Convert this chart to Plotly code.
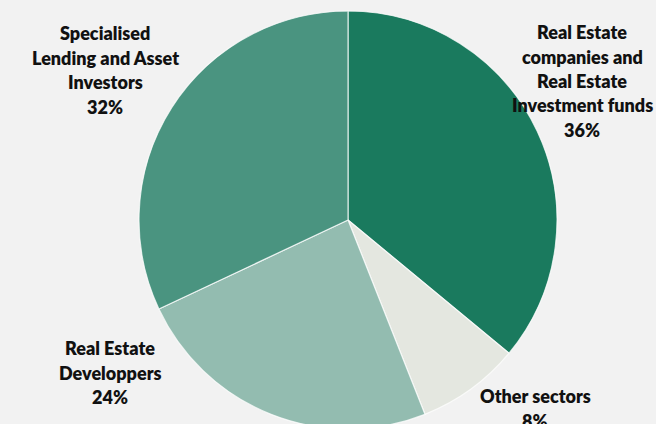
import plotly.graph_objects as go

# Sector breakdown
sectors = [
    "Real Estate companies and Real Estate Investment funds",
    "Other sectors",
    "Real Estate Developpers",
    "Specialised Lending and Asset Investors",
]
shares = [36, 8, 24, 32]
colors = ["#1a7a5e", "#e4e7e0", "#93bcb0", "#4a9480"]

# Wrapped label lines for each sector
label_lines = [
    ["Real Estate", "companies and", "Real Estate", "Investment funds"],
    ["Other sectors"],
    ["Real Estate", "Developpers"],
    ["Specialised", "Lending and Asset", "Investors"],
]
# Label block anchors (pixel centre x, first-line centre y)
label_pos = [(582, 32), (535, 396), (110, 348), (105, 33)]

W, H = 656, 440
LINE = 24.5

fig = go.Figure(
    go.Pie(
        labels=sectors,
        values=shares,
        sort=False,
        direction="clockwise",
        rotation=0,
        marker=dict(colors=colors, line=dict(color="rgba(255,255,255,0.75)", width=1.2)),
        textinfo="none",
        hoverinfo="label+percent",
        showlegend=False,
        domain=dict(x=[139 / W, 557 / W], y=[(H - 429) / H, (H - 11) / H]),
    )
)

for lines, share, (px, py) in zip(label_lines, shares, label_pos):
    for i, txt in enumerate(lines + [f"{share}%"]):
        fig.add_annotation(
            x=px / W,
            y=(H - (py + i * LINE)) / H,
            xref="paper",
            yref="paper",
            text=txt,
            showarrow=False,
            xanchor="center",
            yanchor="middle",
            font=dict(family="Lato", size=18, color="#111111", weight=800),
        )

fig.update_layout(
    width=W,
    height=H,
    margin=dict(l=0, r=0, t=0, b=0),
    paper_bgcolor="#f2f2f2",
    plot_bgcolor="#f2f2f2",
)

fig.write_html(
    "out.html",
    post_script="document.documentElement.style.overflow='hidden';document.body.style.overflow='hidden';document.body.style.margin='0';",
)
